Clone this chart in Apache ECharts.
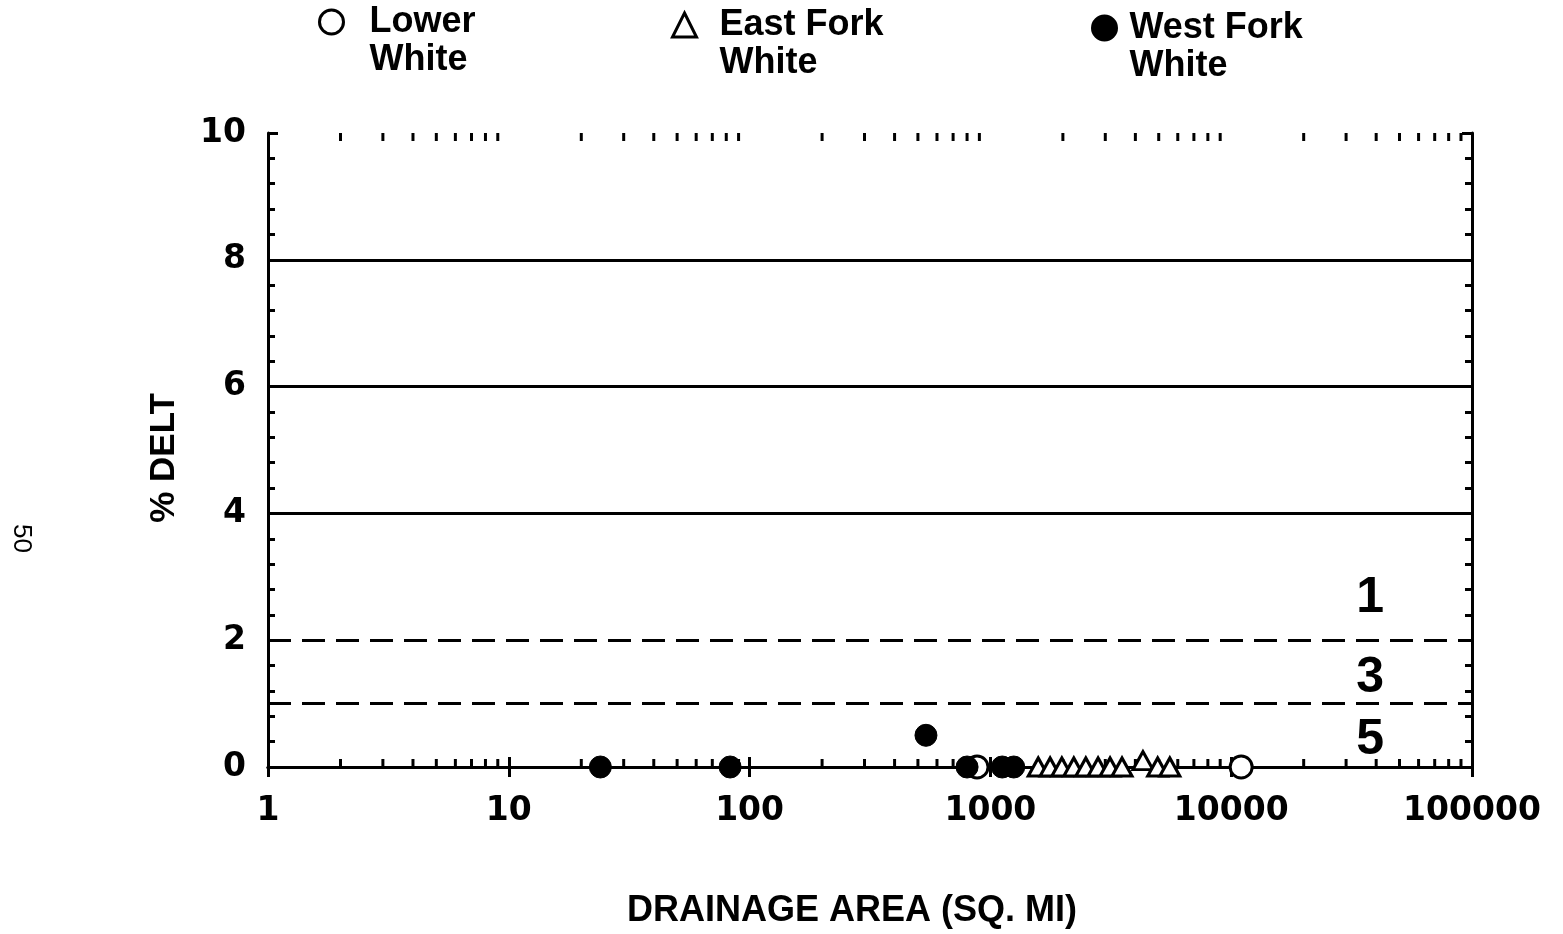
<!DOCTYPE html>
<html>
<head>
<meta charset="utf-8">
<script src="https://cdn.jsdelivr.net/npm/echarts@6/dist/echarts.min.js"></script>
<style>
html,body{margin:0;padding:0;background:#fff;}
#chart{width:1563px;height:934px;}
</style>
</head>
<body>
<div id="chart"></div>
<script>
// ---- data ----
const lowerWhite = [[880, 0], [11000, 0]];
const eastForkWhite = [[1580, 0], [1770, 0], [1980, 0], [2220, 0], [2490, 0], [2800, 0], [3140, 0], [3520, 0], [4300, 0.1], [4950, 0], [5560, 0]];
const westForkWhite = [[24, 0], [83, 0], [540, 0.5], [800, 0], [1120, 0], [1250, 0]];
const solidRefLines = [8, 6, 4];
const dashedRefLines = [2, 1];
const zoneLabels = ['1', '3', '5'];
const zoneLabelX = [37800, 37800, 37800];
const zoneLabelY = [2.67, 1.40, 0.43];
const decades = [1, 10, 100, 1000, 10000];
const minorMultipliers = [2, 3, 4, 5, 6, 7, 8, 9];
const seriesNames = ['Lower\nWhite', 'East Fork\nWhite', 'West Fork\nWhite'];
const xTitle = 'DRAINAGE AREA (SQ. MI)';
const yTitle = '% DELT';
const pageNumber = '50';

const minorTickValues = [];
decades.forEach(d => minorMultipliers.forEach(m => minorTickValues.push([d * m, 0])));

const chart = echarts.init(document.getElementById('chart'), null, {renderer: 'canvas'});
const boldFont = 'Liberation Sans';
const numFont = 'DejaVu Sans';

function makeLegend(name, icon, fill, left, top, padLeft) {
  return {
    data: [{name: name, icon: icon, itemStyle: {color: fill, borderColor: '#000', borderWidth: 3, opacity: 1}}],
    left: left, top: top, padding: 0,
    itemWidth: 24, itemHeight: 24,
    selectedMode: false,
    formatter: n => '\n' + n,
    textStyle: {
      fontFamily: boldFont, fontWeight: 'bold', fontSize: 36, color: '#000',
      lineHeight: 38, padding: [0, 0, 0, padLeft]
    }
  };
}

const option = {
  animation: false,
  backgroundColor: '#fff',
  legend: [
    makeLegend(seriesNames[0], 'circle', '#fff', 318, -35, 21),
    makeLegend(seriesNames[1], 'triangle', '#fff', 671, -32, 18),
    makeLegend(seriesNames[2], 'circle', '#000', 1091, -29, 8)
  ],
  grid: {left: 268, right: 91, top: 133, bottom: 167},
  xAxis: [{
    type: 'log', logBase: 10, min: 1, max: 100000, position: 'bottom',
    name: xTitle, nameLocation: 'middle', nameGap: 126,
    nameTextStyle: {fontFamily: boldFont, fontWeight: 'bold', fontSize: 36, color: '#000', padding: [0, 36, 0, 0]},
    axisLine: {lineStyle: {color: '#000', width: 3}},
    axisTick: {inside: true, length: 10, lineStyle: {color: '#000', width: 3}},
    axisLabel: {fontFamily: numFont, fontWeight: 'bold', fontSize: 33, color: '#000', margin: 28,
      formatter: v => String(Math.round(v))},
    splitLine: {show: false}
  }, {
    type: 'log', logBase: 10, min: 1, max: 100000, position: 'top',
    axisLine: {lineStyle: {color: '#000', width: 3}},
    axisTick: {inside: true, length: 10, lineStyle: {color: '#000', width: 3}},
    axisLabel: {show: false},
    splitLine: {show: false}
  }],
  yAxis: [{
    type: 'value', min: 0, max: 10, interval: 2, position: 'left',
    name: yTitle, nameLocation: 'middle', nameGap: 86, nameRotate: 90,
    nameTextStyle: {fontFamily: boldFont, fontWeight: 'bold', fontSize: 35, color: '#000', padding: [0, 16, 0, 0]},
    axisLine: {show: true, lineStyle: {color: '#000', width: 3}},
    axisTick: {show: true, inside: true, length: 10, lineStyle: {color: '#000', width: 3}},
    minorTick: {show: true, splitNumber: 5, length: 7, lineStyle: {color: '#000', width: 3}},
    axisLabel: {fontFamily: numFont, fontWeight: 'bold', fontSize: 33, color: '#000', margin: 22},
    splitLine: {show: false}
  }, {
    type: 'value', min: 0, max: 10, interval: 2, position: 'right',
    axisLine: {show: true, lineStyle: {color: '#000', width: 3}},
    axisTick: {show: true, inside: true, length: 10, lineStyle: {color: '#000', width: 3}},
    minorTick: {show: true, splitNumber: 5, length: 7, lineStyle: {color: '#000', width: 3}},
    axisLabel: {show: false},
    splitLine: {show: false}
  }],
  series: [
    {
      name: 'refLines', type: 'line', data: [], xAxisIndex: 0, yAxisIndex: 0,
      markLine: {
        silent: true, symbol: 'none', label: {show: false},
        data: solidRefLines.map(v => ({yAxis: v, lineStyle: {type: 'solid', color: '#000', width: 3}}))
          .concat(dashedRefLines.map(v => ({yAxis: v, lineStyle: {type: [23, 11], color: '#000', width: 3}})))
      }
    },
    {
      name: 'logMinorTicks', type: 'custom', xAxisIndex: 0, yAxisIndex: 0, clip: false, silent: true,
      data: minorTickValues,
      renderItem: function (params, api) {
        const x = api.value(0);
        const b = api.coord([x, 0]);
        const t = api.coord([x, 10]);
        return {type: 'group', children: [
          {type: 'line', shape: {x1: b[0], y1: b[1], x2: b[0], y2: b[1] - 8}, style: {stroke: '#000', lineWidth: 3}},
          {type: 'line', shape: {x1: t[0], y1: t[1], x2: t[0], y2: t[1] + 8}, style: {stroke: '#000', lineWidth: 3}}
        ]};
      }
    },
    {
      name: seriesNames[0], type: 'scatter', data: lowerWhite, symbol: 'circle', symbolSize: 22,
      itemStyle: {color: '#fff', borderColor: '#000', borderWidth: 3, opacity: 1}, z: 5
    },
    {
      name: seriesNames[1], type: 'scatter', data: eastForkWhite, symbol: 'triangle', symbolSize: [20, 18],
      itemStyle: {color: '#fff', borderColor: '#000', borderWidth: 3, opacity: 1}, z: 5
    },
    {
      name: seriesNames[2], type: 'scatter', data: westForkWhite, symbol: 'circle', symbolSize: 22,
      itemStyle: {color: '#000', borderColor: '#000', borderWidth: 1, opacity: 1}, z: 6
    },
    {
      name: 'zones', type: 'scatter', symbolSize: 0, silent: true,
      itemStyle: {opacity: 1, color: '#000'},
      data: zoneLabels.map((t, i) => [zoneLabelX[i], zoneLabelY[i], t]),
      label: {show: true, position: 'inside', formatter: p => p.value[2],
        fontFamily: boldFont, fontWeight: 'bold', fontSize: 50, color: '#000', opacity: 1}
    }
  ],
  graphic: [{
    type: 'text', left: 8, top: 524, rotation: -Math.PI / 2,
    style: {text: pageNumber, fontFamily: boldFont, fontSize: 26, fill: '#000'}
  }]
};
chart.setOption(option);
</script>
</body>
</html>
